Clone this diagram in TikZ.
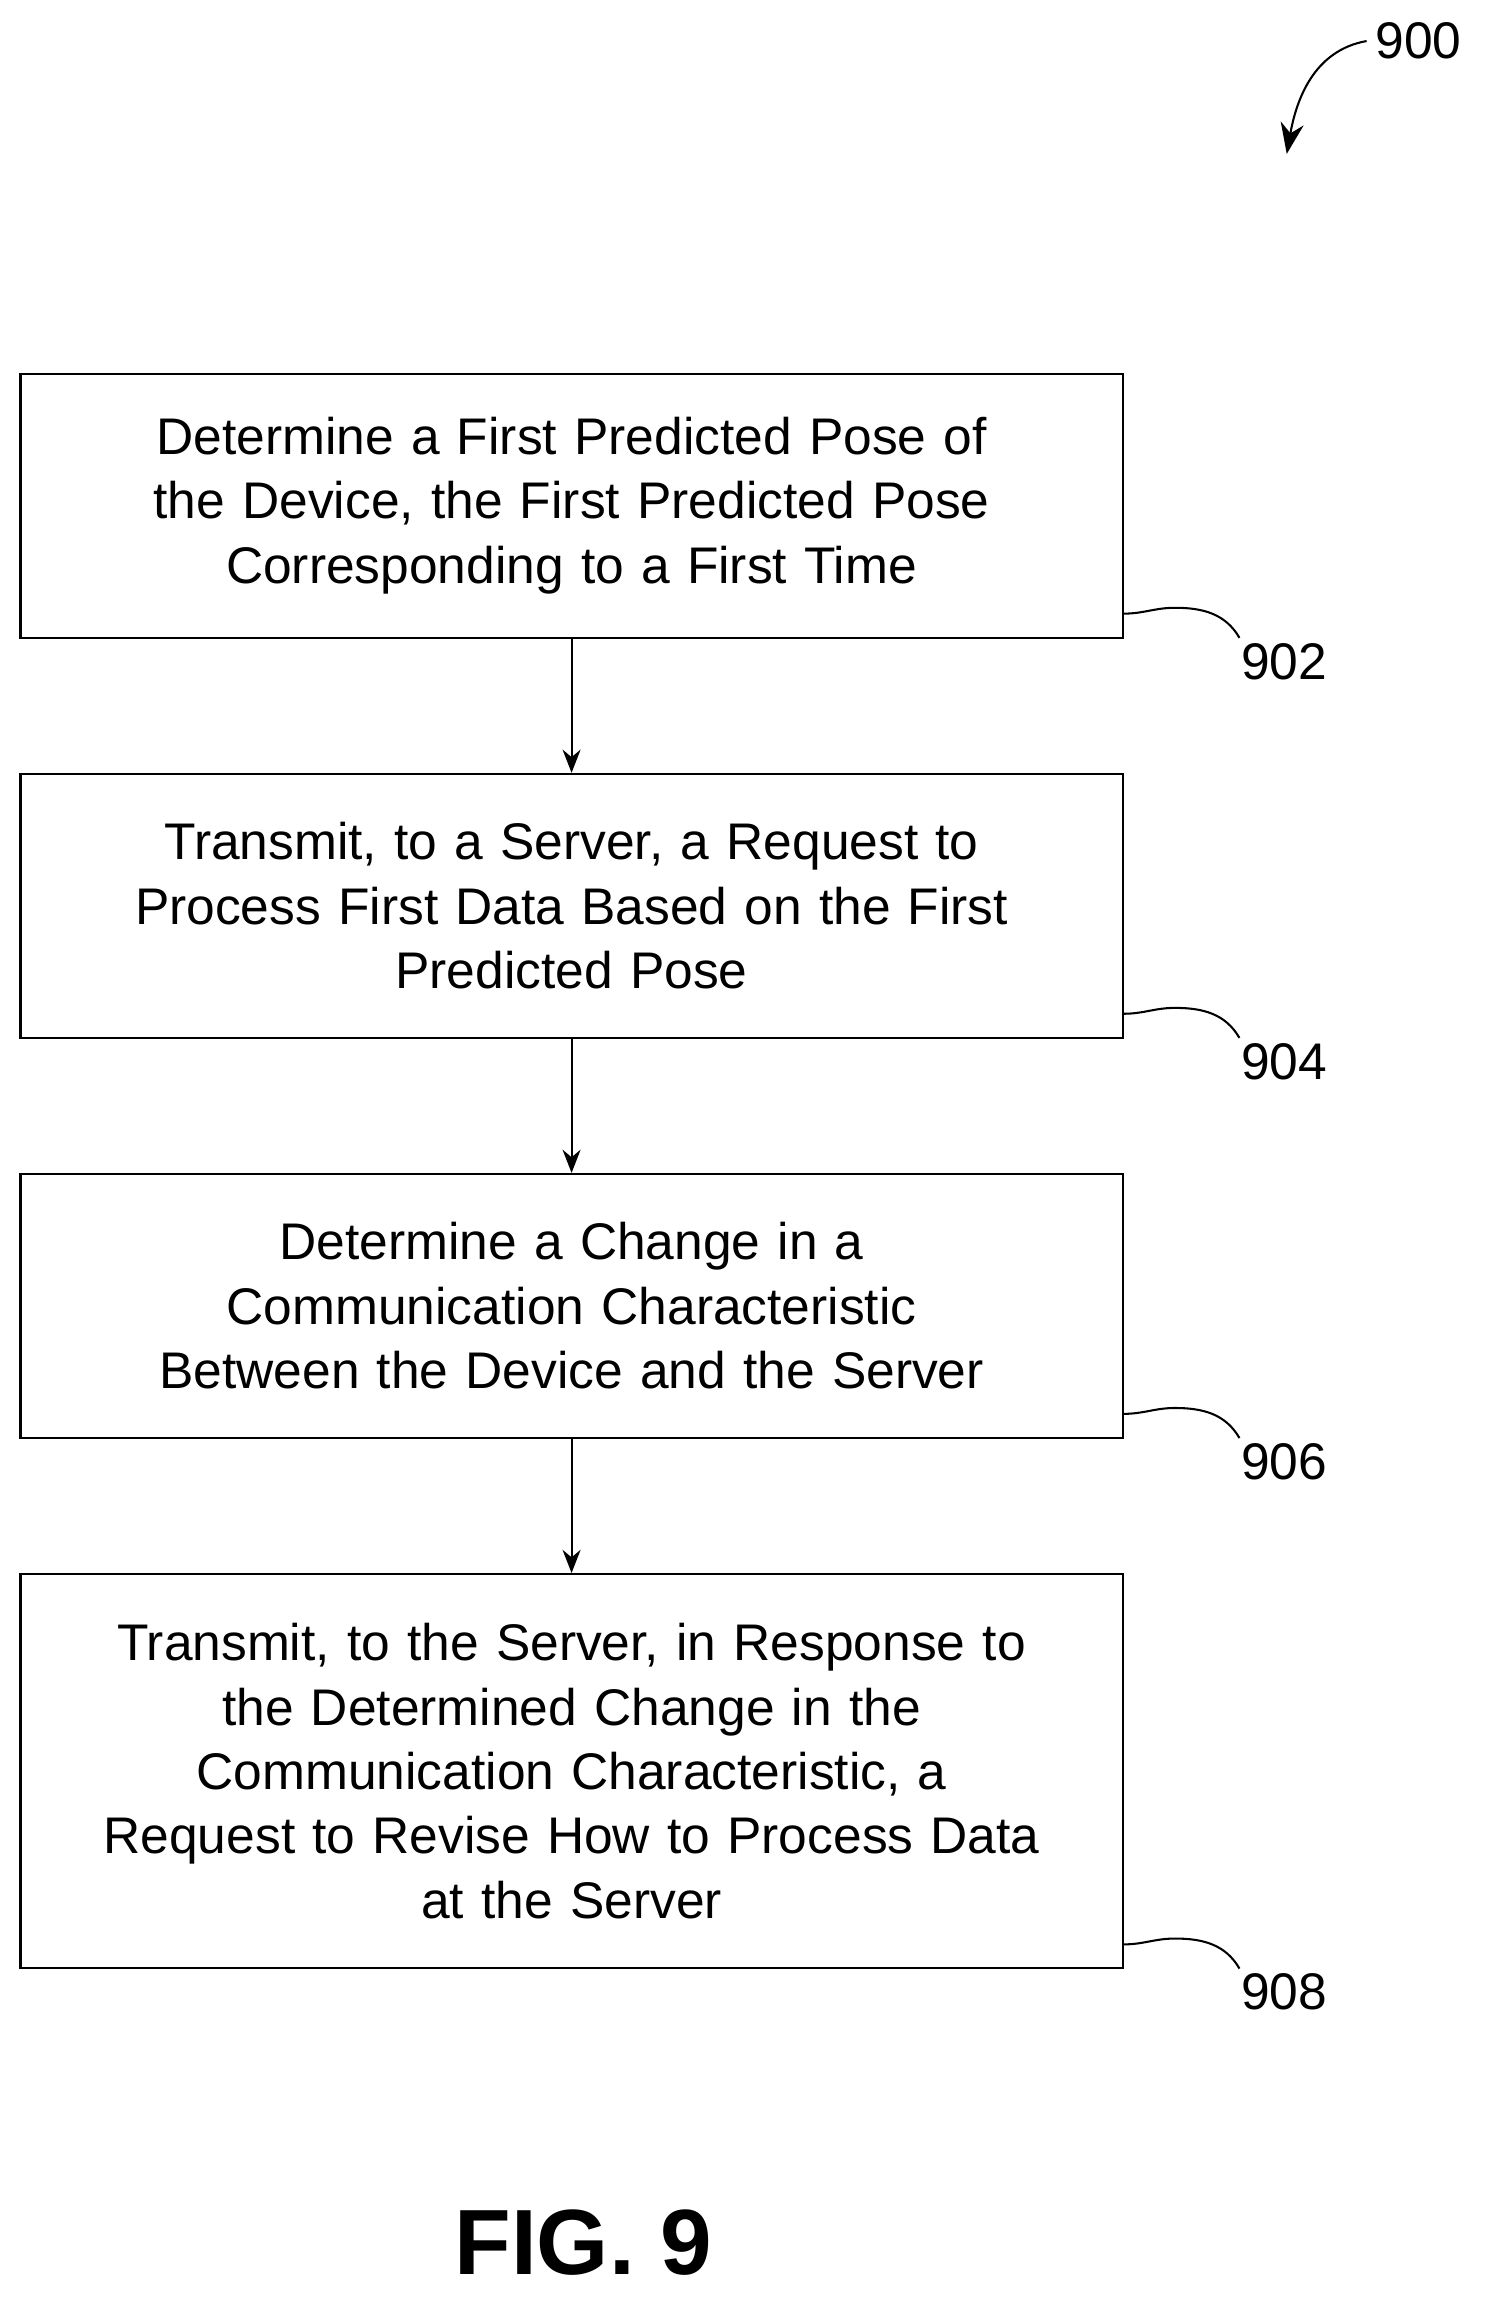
\documentclass[tikz,border=0pt]{standalone}
\usepackage{fontspec}
\setmainfont{Liberation Sans}
\usetikzlibrary{positioning, calc, arrows.meta}

\tikzset{
  stepbox/.style={draw, line width=0.8pt, minimum width=15.04cm, text width=14.6cm,
    align=center, font=\fontsize{20}{25}\selectfont, inner sep=0pt},
  flow/.style={-{Stealth[length=9pt,width=7pt]}, line width=0.8pt},
  lead/.style={line width=0.8pt},
  ref/.style={font=\fontsize{20}{24}\selectfont}
}

\begin{document}
\begin{tikzpicture}
        \useasboundingbox (0,0) rectangle (20.48,-31.66);

        % Steps
        \node[stepbox, minimum height=3.6cm] (s902) at (7.8,-6.9)
          {Determine a First Predicted Pose of\\the Device, the First Predicted Pose\\Corresponding to a First Time};
        \node[stepbox, minimum height=3.6cm] (s904) at (7.8,-12.36)
          {Transmit, to a Server, a Request to\\Process First Data Based on the First\\Predicted Pose};
        \node[stepbox, minimum height=3.6cm] (s906) at (7.8,-17.82)
          {Determine a Change in a\\Communication Characteristic\\Between the Device and the Server};
        \node[stepbox, minimum height=5.38cm] (s908) at (7.8,-24.17)
          {Transmit, to the Server, in Response to\\the Determined Change in the\\Communication Characteristic, a\\Request to Revise How to Process Data\\at the Server};

        % Arrows between steps
        \draw[flow] (s902) -- (s904);
        \draw[flow] (s904) -- (s906);
        \draw[flow] (s906) -- (s908);

        % Reference numerals
        \foreach \s in {902,904,906,908} {
          \node[ref, anchor=north west] (l\s) at ($(s\s.south east)+(1.48,0.06)$) {\s};
          \draw[lead] ($(s\s.south east)+(0,0.34)$) to[out=0,in=180]
            ($(s\s.south east)+(0.7,0.42)$) to[out=0,in=120] ($(l\s.north west)+(0.1,-0.05)$);
        }

        % Figure number
        \node[ref] (n900) at (19.36,-0.56) {900};
        \coordinate (t900) at (17.56,-2.1);
        \draw[lead, -{Stealth[length=12pt,width=9pt]}] (n900.west) to[out=190,in=80] (t900);

        % Caption
        \node[font=\fontsize{36}{40}\selectfont\bfseries] (cap) at (7.96,-30.6) {FIG. 9};
    \end{tikzpicture}
\end{document}
